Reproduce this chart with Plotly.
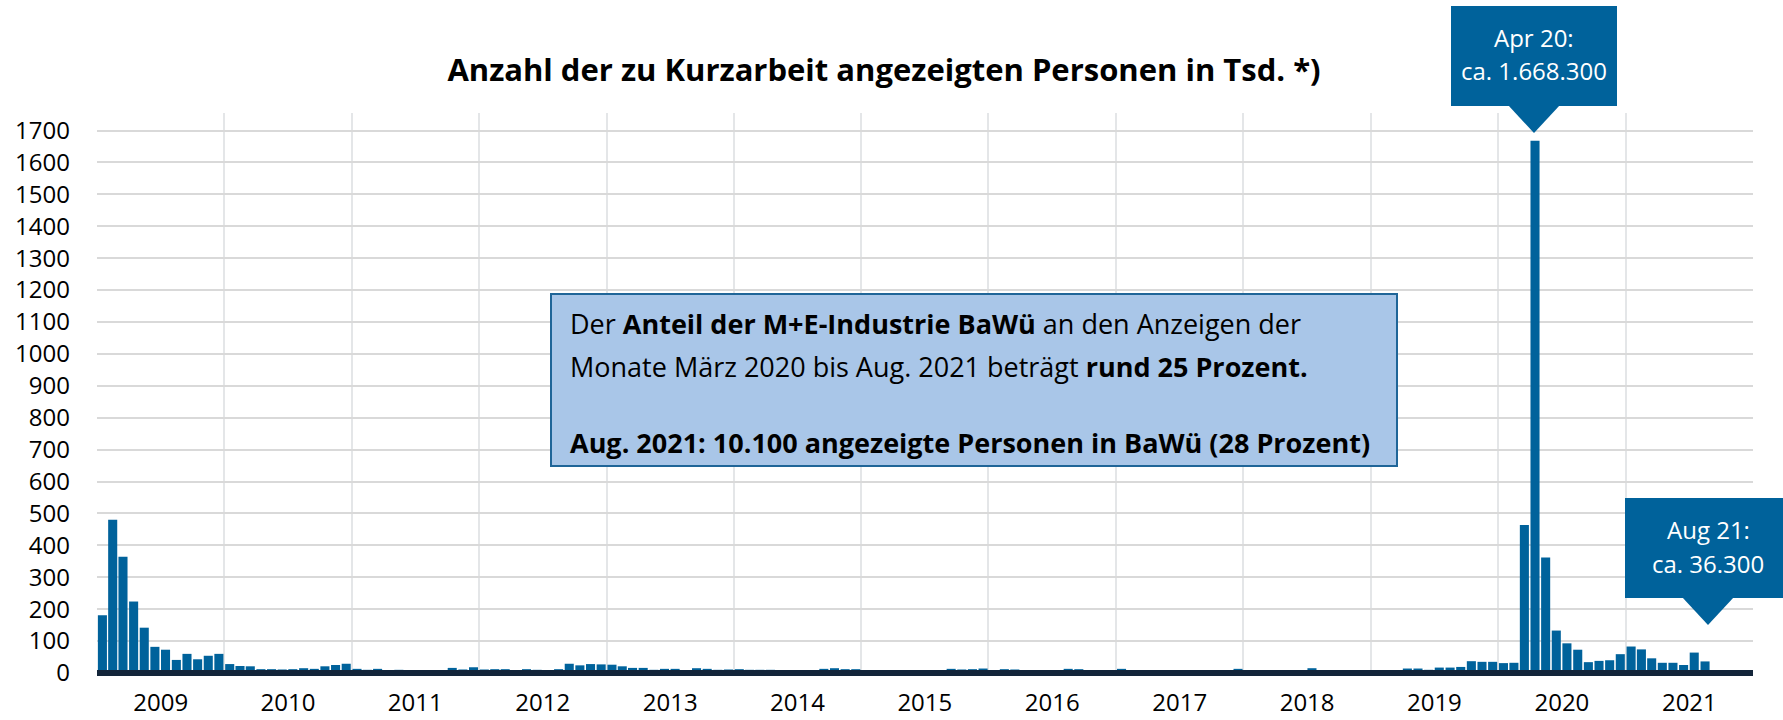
import pandas as pd
import plotly.graph_objects as go

# Kurzarbeit-Anzeigen, Personen in Tsd., Jan 2009 - Aug 2021
v2009 = [181, 480, 364, 224, 142, 82, 73, 41, 60, 43, 54, 60]
v2010 = [28, 22, 21, 12, 12, 11, 12, 15, 13, 21, 25, 29]
v2011 = [13, 10, 13, 4, 10, 3, 3, 3, 3, 16, 11, 18]
v2012 = [11, 12, 12, 3, 12, 10, 3, 12, 29, 24, 28, 27]
v2013 = [26, 21, 16, 16, 10, 13, 13, 3, 15, 13, 10, 11]
v2014 = [12, 10, 10, 10, 3, 3, 3, 3, 13, 15, 12, 12]
v2015 = [3, 9, 3, 3, 3, 3, 3, 3, 13, 11, 12, 14]
v2016 = [9, 12, 11, 3, 3, 3, 3, 13, 12, 9, 9, 3]
v2017 = [13, 3, 3, 3, 3, 3, 3, 3, 3, 3, 3, 13]
v2018 = [3, 3, 3, 3, 3, 3, 15, 3, 3, 3, 3, 3]
v2019 = [3, 3, 3, 14, 14, 10, 17, 17, 19, 37, 35, 35]
v2020 = [31, 32, 464, 1668.3, 362, 133, 93, 73, 34, 38, 40, 59]
v2021 = [83, 74, 46, 32, 32, 25, 64, 36.3]

values = (v2009 + v2010 + v2011 + v2012 + v2013 + v2014 + v2015 + v2016
          + v2017 + v2018 + v2019 + v2020 + v2021)
months = pd.date_range("2009-01-01", periods=len(values), freq="MS")

TITLE = "Anzahl der zu Kurzarbeit angezeigten Personen in Tsd. *)"
BOX_LINES = [
    "Der <b>Anteil der M+E-Industrie BaWü</b> an den Anzeigen der",
    "Monate März 2020 bis Aug. 2021 beträgt <b>rund 25 Prozent.</b>",
    "<b>Aug. 2021: 10.100 angezeigte Personen in BaWü (28 Prozent)</b>",
]

_BLUE = "#00629b"
_AXIS = "#13253a"
_GRID = "#d9d9d9"
_VGRID = "#e4e6e8"
_FONT = "Open Sans"

W, H = 1783, 720
L, R, T, B = 97, 30, 113, 44


def px(x, y):
    """pixel position on the page -> paper coordinates"""
    return (x - L) / (W - L - R), (H - B - y) / (H - T - B)


fig = go.Figure(go.Bar(
    x=months,
    y=values,
    xperiod="M1",
    xperiodalignment="middle",
    width=[26 * 86400000] * len(values),
    marker=dict(color=_BLUE, line=dict(width=0)),
    hovertemplate="%{x|%b %Y}: %{y:,.1f} Tsd.<extra></extra>",
))

shapes = []
# dark baseline covering the zero line
shapes.append(dict(type="line", xref="paper", yref="y", x0=0, x1=1, y0=0, y1=0,
                   line=dict(color=_AXIS, width=6), layer="above"))
# callout Apr 20
bx0, by0 = px(1451, 6)
bx1, by1 = px(1617, 106)
shapes.append(dict(type="rect", xref="paper", yref="paper", x0=bx0, y0=by0, x1=bx1, y1=by1,
                   fillcolor=_BLUE, line=dict(width=0), layer="above"))
a, b = px(1508, 105)
c, d = px(1560, 105)
e, f = px(1534, 133)
shapes.append(dict(type="path", xref="paper", yref="paper", path=f"M{a},{b} L{c},{d} L{e},{f} Z",
                   fillcolor=_BLUE, line=dict(width=0), layer="above"))
# callout Aug 21
bx0, by0 = px(1625, 498)
bx1, by1 = px(1783, 598)
shapes.append(dict(type="rect", xref="paper", yref="paper", x0=bx0, y0=by0, x1=bx1, y1=by1,
                   fillcolor=_BLUE, line=dict(width=0), layer="above"))
a, b = px(1682, 597)
c, d = px(1734, 597)
e, f = px(1708, 625)
shapes.append(dict(type="path", xref="paper", yref="paper", path=f"M{a},{b} L{c},{d} L{e},{f} Z",
                   fillcolor=_BLUE, line=dict(width=0), layer="above"))
# info box
bx0, by0 = px(551, 294)
bx1, by1 = px(1397, 466)
shapes.append(dict(type="rect", xref="paper", yref="paper", x0=bx0, y0=by0, x1=bx1, y1=by1,
                   fillcolor="#a9c6e8", line=dict(color="#1f6598", width=2), layer="above"))

annotations = []
for txt, x, y in [("Apr 20:", 1534, 37), ("ca. 1.668.300", 1534, 71),
                  ("Aug 21:", 1708, 529), ("ca. 36.300", 1708, 563)]:
    ax, ay = px(x, y)
    annotations.append(dict(text=txt, xref="paper", yref="paper", x=ax, y=ay,
                            xanchor="center", yanchor="middle", showarrow=False,
                            font=dict(family=_FONT, size=24, color="white")))
for txt, y in zip(BOX_LINES, [323, 366, 442]):
    ax, ay = px(568, y)
    annotations.append(dict(text=txt, xref="paper", yref="paper", x=ax, y=ay,
                            xanchor="left", yanchor="middle", showarrow=False,
                            font=dict(family=_FONT, size=27, color="black")))

fig.update_layout(
    width=W,
    height=H,
    paper_bgcolor="white",
    plot_bgcolor="white",
    margin=dict(l=L, r=R, t=T, b=B),
    font=dict(family=_FONT, size=24, color="black"),
    title=dict(text=f"<b>{TITLE}</b>", x=884 / W, xanchor="center",
               y=1 - 70 / H, yanchor="middle", font=dict(size=31, color="black")),
    showlegend=False,
    bargap=0.15,
    shapes=shapes,
    annotations=annotations,
    xaxis=dict(
        type="date",
        range=["2009-01-01", "2022-01-01"],
        tick0="2009-01-01",
        dtick="M12",
        tickformat="%Y",
        ticklabelmode="period",
        showgrid=True,
        gridcolor=_VGRID,
        gridwidth=2,
        showline=False,
        ticks="",
        ticklabelstandoff=10,
        tickfont=dict(size=24, color="black"),
        automargin=False,
        fixedrange=True,
    ),
    yaxis=dict(
        range=[-9.4, 1755],
        tickvals=list(range(0, 1800, 100)),
        showgrid=True,
        gridcolor=_GRID,
        gridwidth=2,
        zeroline=False,
        ticks="",
        ticklabelstandoff=26,
        tickfont=dict(size=24, color="black"),
        automargin=False,
        fixedrange=True,
    ),
)

fig.write_html("out.html", config={"displayModeBar": False},
               post_script="document.body.style.margin = '0';")
